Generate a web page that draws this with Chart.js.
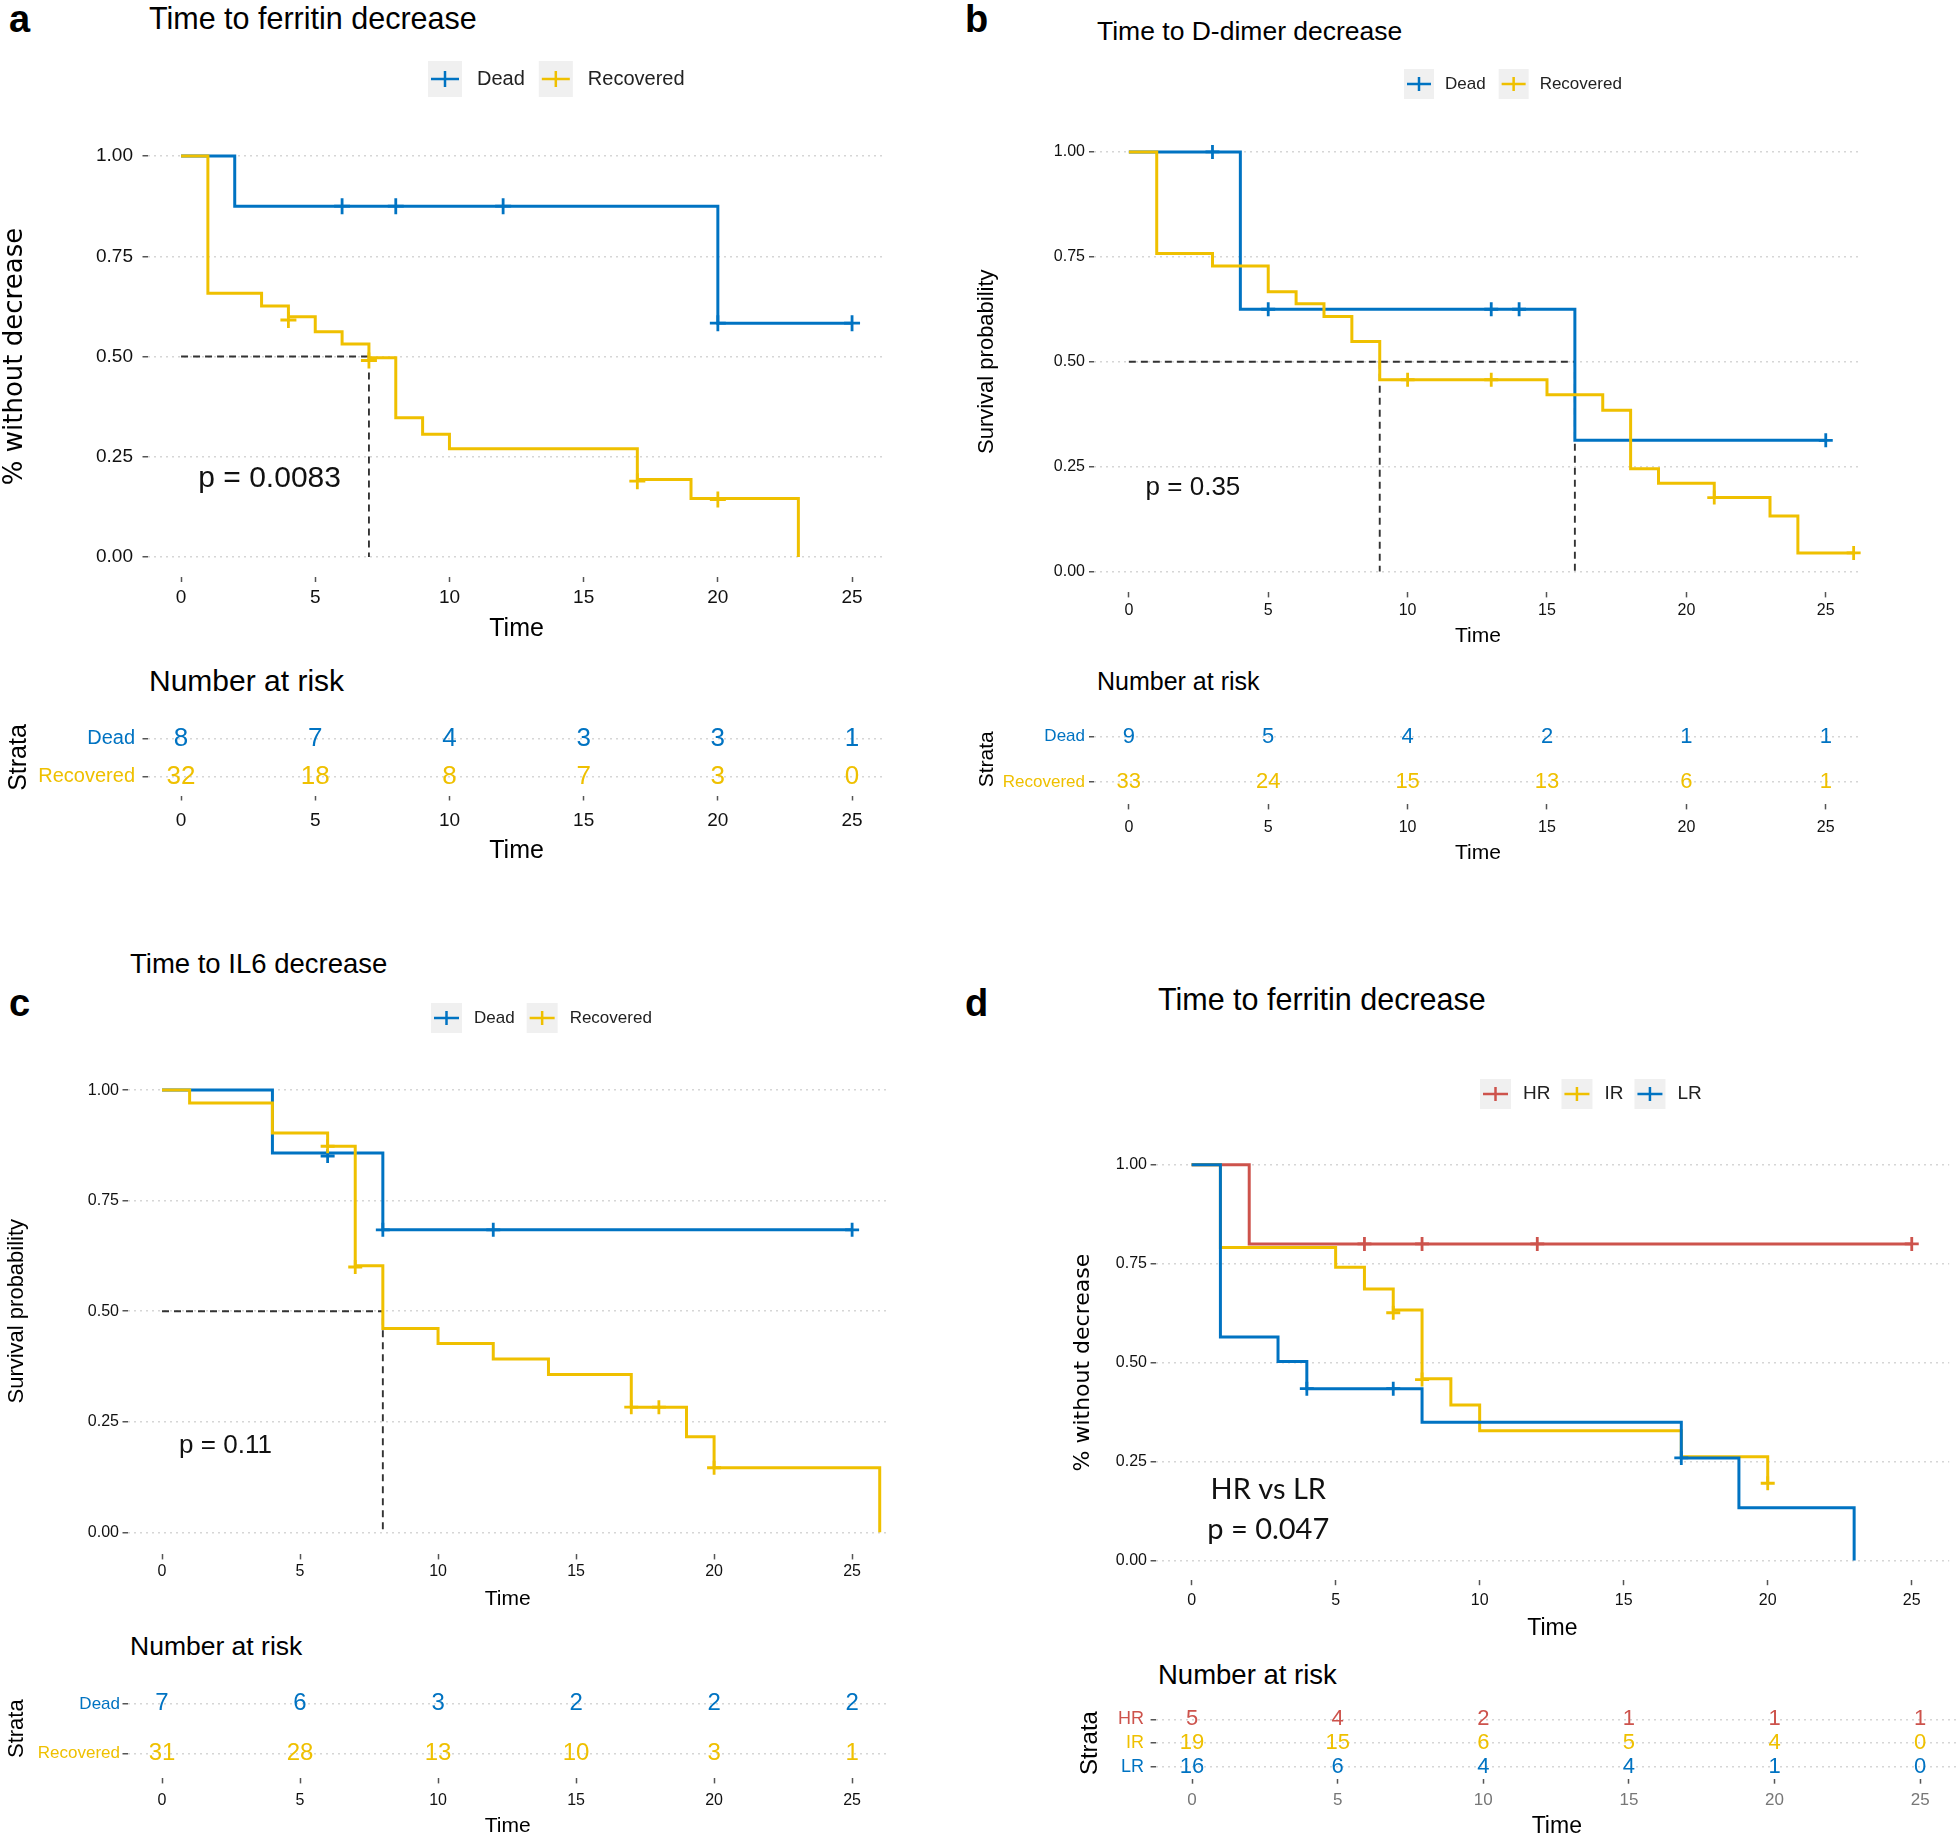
<!DOCTYPE html>
<html>
<head>
<title>Time to marker decrease</title>
<script src="https://cdnjs.cloudflare.com/ajax/libs/Chart.js/4.4.0/chart.umd.min.js"></script>
<style>
body { margin: 0; background: #fff; }
#fig { position: relative; width: 1959px; height: 1838px; overflow: hidden; font-family: "Liberation Sans", Arial, sans-serif; }
#fig canvas { position: absolute; }
.txt { position: absolute; white-space: nowrap; line-height: 1; transform: translateY(-50%); color: #000; }
</style>
</head>
<body>
<div id="fig"></div>
<script>
// ---- data ----
const timeTicks = [0, 5, 10, 15, 20, 25];
const survTicks = [0, 0.25, 0.5, 0.75, 1];

// a: ferritin, Dead vs Recovered
const aDeadTime = [0, 2, 20, 25];
const aDeadSurv = [1, 0.875, 0.583, 0.583];
const aDeadCensTime = [6, 8, 12, 20, 25];
const aDeadCensSurv = [0.875, 0.875, 0.875, 0.583, 0.583];
const aRecTime = [0, 1, 3, 4, 5, 6, 7, 8, 9, 10, 17, 19, 23];
const aRecSurv = [1, 0.658, 0.626, 0.599, 0.562, 0.531, 0.497, 0.347, 0.306, 0.270, 0.193, 0.146, 0];
const aRecCensTime = [4, 7, 17, 20];
const aRecCensSurv = [0.591, 0.49, 0.189, 0.143];
const aMedianTime = [7];
const aRiskDead = [8, 7, 4, 3, 3, 1];
const aRiskRec = [32, 18, 8, 7, 3, 0];

// b: D-dimer
const bDeadTime = [0, 4, 16, 25];
const bDeadSurv = [1, 0.625, 0.3125, 0.3125];
const bDeadCensTime = [3, 5, 13, 14, 25];
const bDeadCensSurv = [1, 0.625, 0.625, 0.625, 0.3125];
const bRecTime = [0, 1, 3, 5, 6, 7, 8, 9, 15, 17, 18, 19, 21, 23, 24, 26];
const bRecSurv = [1, 0.758, 0.728, 0.667, 0.638, 0.608, 0.548, 0.457, 0.421, 0.384, 0.245, 0.210, 0.176, 0.132, 0.044, 0.044];
const bRecCensTime = [10, 13, 21, 26];
const bRecCensSurv = [0.457, 0.457, 0.176, 0.044];
const bMedianTime = [9, 16];
const bRiskDead = [9, 5, 4, 2, 1, 1];
const bRiskRec = [33, 24, 15, 13, 6, 1];

// c: IL6
const cDeadTime = [0, 4, 8, 25];
const cDeadSurv = [1, 0.858, 0.684, 0.684];
const cDeadCensTime = [6, 8, 12, 25];
const cDeadCensSurv = [0.851, 0.684, 0.684, 0.684];
const cRecTime = [0, 1, 4, 6, 7, 8, 10, 12, 14, 17, 19, 20, 26];
const cRecSurv = [1, 0.971, 0.903, 0.873, 0.603, 0.461, 0.427, 0.392, 0.357, 0.283, 0.216, 0.146, 0];
const cRecCensTime = [6, 7, 17, 18, 20];
const cRecCensSurv = [0.873, 0.6, 0.283, 0.283, 0.146];
const cMedianTime = [8];
const cRiskDead = [7, 6, 3, 2, 2, 2];
const cRiskRec = [31, 28, 13, 10, 3, 1];

// d: ferritin by risk group
const dHRTime = [0, 2, 25];
const dHRSurv = [1, 0.8, 0.8];
const dHRCensTime = [6, 8, 12, 25];
const dHRCensSurv = [0.8, 0.8, 0.8, 0.8];
const dIRTime = [0, 1, 5, 6, 7, 8, 9, 10, 17, 20];
const dIRSurv = [1, 0.791, 0.741, 0.686, 0.633, 0.459, 0.393, 0.328, 0.262, 0.195];
const dIRCensTime = [7, 8, 20];
const dIRCensSurv = [0.626, 0.457, 0.195];
const dLRTime = [0, 1, 3, 4, 8, 17, 19, 23];
const dLRSurv = [1, 0.565, 0.503, 0.434, 0.349, 0.259, 0.133, 0];
const dLRCensTime = [4, 7, 17];
const dLRCensSurv = [0.434, 0.434, 0.259];
const dRiskHR = [5, 4, 2, 1, 1, 1];
const dRiskIR = [19, 15, 6, 5, 4, 0];
const dRiskLR = [16, 6, 4, 4, 1, 0];

// ---- styling ----
const BLUE = '#0073C2', YELLOW = '#EFC000', RED = '#CD534C';
const SANS = '"Liberation Sans", Arial, sans-serif';
const fig = document.getElementById('fig');

function addText(txt, x, y, font) {
  const d = document.createElement('div');
  d.className = 'txt';
  d.textContent = txt;
  d.style.left = x + 'px';
  d.style.top = y + 'px';
  d.style.font = font;
  fig.appendChild(d);
}

function addCanvas(box) {
  const c = document.createElement('canvas');
  c.width = box.right - box.left;
  c.height = box.bottom - box.top;
  c.style.left = box.left + 'px';
  c.style.top = box.top + 'px';
  c.style.width = c.width + 'px';
  c.style.height = c.height + 'px';
  fig.appendChild(c);
  return c;
}

const keyLegend = {
  id: 'keyLegend',
  afterDraw(chart, args, o) {
    if (!o || o.x === undefined) return;
    const ctx = chart.ctx;
    const items = chart.data.datasets.filter(d => d.key).sort((p, q) => p.keyIndex - q.keyIndex);
    ctx.save();
    ctx.font = o.font;
    ctx.textBaseline = 'middle';
    let x = o.x;
    items.forEach(d => {
      ctx.fillStyle = '#f0f0f0';
      ctx.fillRect(x, o.y - o.keyH / 2, o.keyW, o.keyH);
      ctx.strokeStyle = d.borderColor;
      ctx.lineWidth = 2.5;
      ctx.beginPath();
      ctx.moveTo(x + 3, o.y); ctx.lineTo(x + o.keyW - 3, o.y);
      ctx.moveTo(x + o.keyW / 2, o.y - o.tick); ctx.lineTo(x + o.keyW / 2, o.y + o.tick);
      ctx.stroke();
      x += o.keyW + o.gap;
      ctx.fillStyle = '#222';
      ctx.fillText(d.label, x, o.y);
      x += ctx.measureText(d.label).width + o.itemGap;
    });
    ctx.restore();
  }
};

const noteText = {
  id: 'noteText',
  afterDatasetsDraw(chart, args, o) {
    if (!o || !o.notes) return;
    const {ctx, scales: {x, y}} = chart;
    ctx.save();
    ctx.textAlign = 'center';
    ctx.textBaseline = 'middle';
    ctx.fillStyle = '#111';
    o.notes.forEach(n => {
      ctx.font = n.font;
      ctx.fillText(n.text, x.getPixelForValue(n.x), y.getPixelForValue(n.y));
    });
    ctx.restore();
  }
};

const riskNumbers = {
  id: 'riskNumbers',
  afterDatasetsDraw(chart, args, o) {
    if (!o || !o.font) return;
    const ctx = chart.ctx;
    ctx.save();
    ctx.textAlign = 'center';
    ctx.textBaseline = 'middle';
    ctx.font = o.font;
    chart.data.datasets.forEach((ds, i) => {
      if (!ds.counts) return;
      ctx.fillStyle = ds.textColor;
      chart.getDatasetMeta(i).data.forEach((pt, j) => ctx.fillText(String(ds.counts[j]), pt.x, pt.y));
    });
    ctx.restore();
  }
};

function xScale(p, box, a, opt) {
  const pad = Math.max(0, opt.labelY - a.b - 5 - 0.6 * opt.tickSize);
  return {
    type: 'linear', min: p.xMin, max: p.xMax,
    afterBuildTicks: s => { s.ticks = timeTicks.map(v => ({value: v})); },
    afterFit: s => { s.height = box.bottom - a.b; },
    grid: {display: true, drawOnChartArea: false, drawTicks: true, tickLength: 5, tickWidth: 1.5, tickColor: '#555'},
    border: {display: false},
    ticks: {color: opt.tickColor || '#111', font: {family: SANS, size: opt.tickSize}, padding: pad, maxRotation: 0},
    title: {display: true, text: 'Time', color: '#000', font: {family: SANS, size: opt.timeSize}, padding: {top: 0, bottom: 3}}
  };
}

function yTitle(text, box, opt) {
  return {display: true, text: text, color: '#000',
    font: {family: opt.yTitleFont || SANS, size: opt.yTitleSize},
    padding: {top: Math.max(0, opt.yTitleX - box.left - 0.6 * opt.yTitleSize), bottom: 0}};
}

function kmChart(p) {
  const a = p.area;
  const box = Object.assign({}, p.box, {bottom: p.timeY + 0.6 * p.timeSize + 3});
  const datasets = [];
  p.curves.forEach((c, k) => {
    datasets.push({label: c.name, key: true, keyIndex: k, order: c.z,
      data: c.time.map((t, i) => ({x: t, y: c.surv[i]})),
      stepped: true, borderColor: c.color, borderWidth: p.lw, pointRadius: 0, fill: false});
    datasets.push({label: c.name + ' censored', order: c.z,
      data: c.censTime.map((t, i) => ({x: t, y: c.censSurv[i]})),
      showLine: false, pointStyle: 'cross', pointRadius: p.cross, pointBorderWidth: 2.8,
      borderColor: c.color, pointBorderColor: c.color});
  });
  p.median.forEach((m, k) => {
    const lineData = k === p.median.length - 1 ? [{x: 0, y: 0.5}, {x: m, y: 0.5}, {x: m, y: 0}] : [{x: m, y: 0.5}, {x: m, y: 0}];
    datasets.push({label: 'median', order: 20, data: lineData, borderColor: '#333',
      borderDash: [7, 5], borderWidth: 1.9, pointRadius: 0, fill: false});
  });
  new Chart(addCanvas(box), {
    type: 'line',
    data: {datasets},
    plugins: [keyLegend, noteText],
    options: {
      responsive: false, animation: false, events: [],
      layout: {padding: {top: a.t - box.top, right: box.right - a.r, left: 0, bottom: 0}},
      plugins: {
        legend: {display: false}, tooltip: {enabled: false},
        keyLegend: Object.assign({}, p.legend, {x: p.legend.x - box.left, y: p.legend.y - box.top}),
        noteText: {notes: p.notes}
      },
      scales: {
        x: xScale(p, box, a, p),
        y: {
          min: -0.05, max: 1.05,
          afterBuildTicks: s => { s.ticks = survTicks.map(v => ({value: v})); },
          afterFit: s => { s.width = a.l - box.left; },
          grid: {color: '#d6d6d6', lineWidth: 1.5, drawTicks: true, tickLength: 5, tickWidth: 1.5, tickColor: '#555', tickBorderDash: []},
          border: {display: false, dash: [2, 4]},
          ticks: {color: '#111', font: {family: SANS, size: p.tickSize}, padding: Math.max(0, a.l - 5 - p.yLabelRight),
            callback: v => v.toFixed(2)},
          title: yTitle(p.yTitle, box, p)
        }
      }
    }
  });
}

function riskChart(p) {
  const a = p.area;
  const box = Object.assign({}, p.box, {bottom: p.timeY + 0.6 * p.timeSize + 3});
  const n = p.rows.length;
  const datasets = p.rows.map((r, k) => ({
    label: r.name, counts: r.counts, textColor: r.color,
    data: timeTicks.map(t => ({x: t, y: k})), showLine: false, pointRadius: 0
  }));
  new Chart(addCanvas(box), {
    type: 'line',
    data: {datasets},
    plugins: [riskNumbers],
    options: {
      responsive: false, animation: false, events: [],
      layout: {padding: {top: a.t - box.top, right: box.right - a.r, left: 0, bottom: 0}},
      plugins: {legend: {display: false}, tooltip: {enabled: false}, riskNumbers: {font: p.numFont}},
      scales: {
        x: xScale(p, box, a, p),
        y: {
          min: -0.5, max: n - 0.5, reverse: true,
          afterBuildTicks: s => { s.ticks = p.rows.map((r, k) => ({value: k})); },
          afterFit: s => { s.width = a.l - box.left; },
          grid: {color: '#d6d6d6', lineWidth: 1.5, drawTicks: true, tickLength: 5, tickWidth: 1.5, tickColor: '#555', tickBorderDash: []},
          border: {display: false, dash: [2, 4]},
          ticks: {font: {family: SANS, size: p.rowSize}, padding: Math.max(0, a.l - 5 - p.yLabelRight),
            color: c => p.rows[c.tick.value].color,
            callback: v => p.rows[v].name},
          title: yTitle('Strata', box, p)
        }
      }
    }
  });
}

// ---- panel a ----
addText('a', 9, 19, 'bold 38px ' + SANS);
addText('Time to ferritin decrease', 149, 18, '30.5px ' + SANS);
kmChart({
  box: {left: 0, top: 40, right: 960},
  area: {l: 147.5, r: 885.6, t: 136, b: 577},
  xMin: -1.25, xMax: 26.25, lw: 3, cross: 8,
  curves: [
    {name: 'Dead', color: BLUE, z: 1, time: aDeadTime, surv: aDeadSurv, censTime: aDeadCensTime, censSurv: aDeadCensSurv},
    {name: 'Recovered', color: YELLOW, z: 0, time: aRecTime, surv: aRecSurv, censTime: aRecCensTime, censSurv: aRecCensSurv}
  ],
  median: aMedianTime,
  legend: {x: 428, y: 79, keyW: 34, keyH: 36, tick: 8, gap: 15, itemGap: 14, font: '20px ' + SANS},
  notes: [{text: 'p = 0.0083', x: 3.3, y: 0.196, font: '30px ' + SANS}],
  tickSize: 19, labelY: 598, yLabelRight: 133, timeSize: 25, timeY: 629,
  yTitle: '% without decrease', yTitleFont: '"DejaVu Sans", Verdana, sans-serif', yTitleSize: 26, yTitleX: 15
});
addText('Number at risk', 149, 681, '30px ' + SANS);
riskChart({
  box: {left: 0, top: 700, right: 960},
  area: {l: 147.5, r: 885.6, t: 717.5, b: 795.5},
  xMin: -1.25, xMax: 26.25,
  rows: [{name: 'Dead', color: BLUE, counts: aRiskDead}, {name: 'Recovered', color: YELLOW, counts: aRiskRec}],
  numFont: '26px ' + SANS, rowSize: 20,
  tickSize: 19, labelY: 821, yLabelRight: 135, timeSize: 25, timeY: 851,
  yTitleSize: 25, yTitleX: 19
});

// ---- panel b ----
addText('b', 965, 19, 'bold 38px ' + SANS);
addText('Time to D-dimer decrease', 1097, 31, '26.5px ' + SANS);
kmChart({
  box: {left: 960, top: 40, right: 1959},
  area: {l: 1094, r: 1862, t: 131, b: 593},
  xMin: -1.25, xMax: 26.3, lw: 3, cross: 7,
  curves: [
    {name: 'Dead', color: BLUE, z: 1, time: bDeadTime, surv: bDeadSurv, censTime: bDeadCensTime, censSurv: bDeadCensSurv},
    {name: 'Recovered', color: YELLOW, z: 0, time: bRecTime, surv: bRecSurv, censTime: bRecCensTime, censSurv: bRecCensSurv}
  ],
  median: bMedianTime,
  legend: {x: 1404, y: 84, keyW: 30, keyH: 30, tick: 7, gap: 11, itemGap: 13, font: '17px ' + SANS},
  notes: [{text: 'p = 0.35', x: 2.3, y: 0.2, font: '26px ' + SANS}],
  tickSize: 16, labelY: 611, yLabelRight: 1085, timeSize: 21, timeY: 637,
  yTitle: 'Survival probability', yTitleSize: 22, yTitleX: 987
});
addText('Number at risk', 1097, 681, '25px ' + SANS);
riskChart({
  box: {left: 960, top: 700, right: 1959},
  area: {l: 1094, r: 1862, t: 713, b: 805},
  xMin: -1.25, xMax: 26.3,
  rows: [{name: 'Dead', color: BLUE, counts: bRiskDead}, {name: 'Recovered', color: YELLOW, counts: bRiskRec}],
  numFont: '22px ' + SANS, rowSize: 17,
  tickSize: 16, labelY: 828, yLabelRight: 1085, timeSize: 21, timeY: 854,
  yTitleSize: 21, yTitleX: 987
});

// ---- panel c ----
addText('c', 9, 1003, 'bold 38px ' + SANS);
addText('Time to IL6 decrease', 130, 964, '27.5px ' + SANS);
kmChart({
  box: {left: 0, top: 990, right: 960},
  area: {l: 127.5, r: 888, t: 1068, b: 1555},
  xMin: -1.25, xMax: 26.3, lw: 3, cross: 7,
  curves: [
    {name: 'Dead', color: BLUE, z: 1, time: cDeadTime, surv: cDeadSurv, censTime: cDeadCensTime, censSurv: cDeadCensSurv},
    {name: 'Recovered', color: YELLOW, z: 0, time: cRecTime, surv: cRecSurv, censTime: cRecCensTime, censSurv: cRecCensSurv}
  ],
  median: cMedianTime,
  legend: {x: 431, y: 1018, keyW: 31, keyH: 30, tick: 7, gap: 12, itemGap: 12, font: '17px ' + SANS},
  notes: [{text: 'p = 0.11', x: 2.3, y: 0.195, font: '26px ' + SANS}],
  tickSize: 16, labelY: 1572, yLabelRight: 119, timeSize: 21, timeY: 1600,
  yTitle: 'Survival probability', yTitleSize: 22, yTitleX: 17
});
addText('Number at risk', 130, 1646, '26.5px ' + SANS);
riskChart({
  box: {left: 0, top: 1665, right: 960},
  area: {l: 127.5, r: 888, t: 1679, b: 1779},
  xMin: -1.25, xMax: 26.3,
  rows: [{name: 'Dead', color: BLUE, counts: cRiskDead}, {name: 'Recovered', color: YELLOW, counts: cRiskRec}],
  numFont: '24px ' + SANS, rowSize: 17,
  tickSize: 16, labelY: 1801, yLabelRight: 120, timeSize: 21, timeY: 1827,
  yTitleSize: 22, yTitleX: 17
});

// ---- panel d ----
addText('d', 965, 1003, 'bold 38px ' + SANS);
addText('Time to ferritin decrease', 1158, 999, '30.5px ' + SANS);
kmChart({
  box: {left: 960, top: 1050, right: 1959},
  area: {l: 1155.6, r: 1958, t: 1145, b: 1581},
  xMin: -1.25, xMax: 26.3, lw: 3, cross: 7,
  curves: [
    {name: 'HR', color: RED, z: 2, time: dHRTime, surv: dHRSurv, censTime: dHRCensTime, censSurv: dHRCensSurv},
    {name: 'IR', color: YELLOW, z: 1, time: dIRTime, surv: dIRSurv, censTime: dIRCensTime, censSurv: dIRCensSurv},
    {name: 'LR', color: BLUE, z: 0, time: dLRTime, surv: dLRSurv, censTime: dLRCensTime, censSurv: dLRCensSurv}
  ],
  median: [],
  legend: {x: 1480, y: 1094, keyW: 31, keyH: 30, tick: 7, gap: 12, itemGap: 11, font: '19px ' + SANS},
  notes: [{text: 'HR vs LR', x: 2.66, y: 0.18, font: '29px Lato, "Open Sans", sans-serif'},
          {text: 'p = 0.047', x: 2.66, y: 0.079, font: '29px Lato, "Open Sans", sans-serif'}],
  tickSize: 16, labelY: 1601, yLabelRight: 1147, timeSize: 23, timeY: 1629,
  yTitle: '% without decrease', yTitleFont: '"DejaVu Sans", Verdana, sans-serif', yTitleSize: 22, yTitleX: 1083
});
addText('Number at risk', 1158, 1675, '27.5px ' + SANS);
riskChart({
  box: {left: 960, top: 1690, right: 1959},
  area: {l: 1155.6, r: 1958, t: 1704.5, b: 1779.5},
  xMin: -1.25, xMax: 26.3,
  rows: [{name: 'HR', color: RED, counts: dRiskHR}, {name: 'IR', color: YELLOW, counts: dRiskIR}, {name: 'LR', color: BLUE, counts: dRiskLR}],
  numFont: '22px ' + SANS, rowSize: 18, tickColor: '#777',
  tickSize: 17, labelY: 1801, yLabelRight: 1144, timeSize: 23, timeY: 1827,
  yTitleSize: 24, yTitleX: 1090
});
</script>
</body>
</html>
